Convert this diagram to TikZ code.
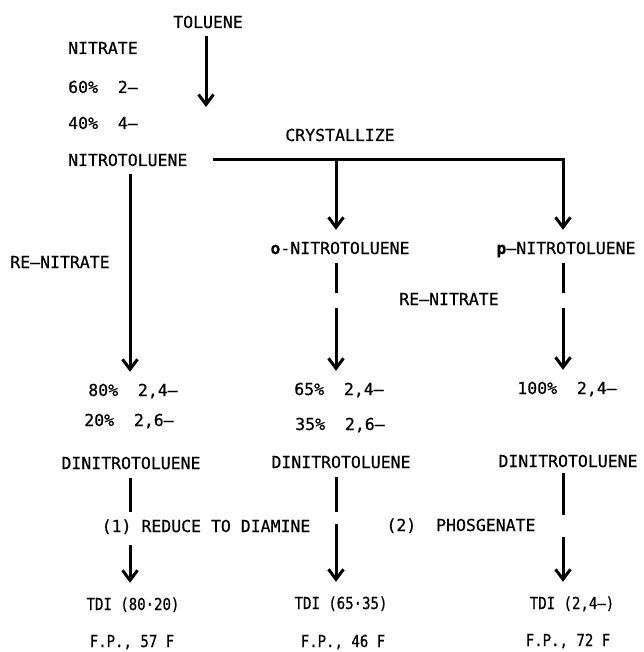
\documentclass[tikz,border=0pt]{standalone}
\usepackage{fontspec}
\setmainfont{DejaVu Sans Mono}[FakeBold=0.6]
\usetikzlibrary{arrows.meta}

\begin{document}
\begin{tikzpicture}[x=1pt,y=-1pt,>={Straight Barb[length=10pt,width=15pt]},
    lbl/.style={inner sep=0pt,text height=12pt,text depth=0pt,font=\fontsize{16.5}{19}\selectfont},
    lblnarrow/.style={lbl,font=\fontsize{16.5}{19}\selectfont\addfontfeature{FakeStretch=0.85}},
    link/.style={line width=3pt,shorten <=8pt},
    flow/.style={link,->,shorten >=12pt}]
  \useasboundingbox (0,0) rectangle (643,652);
  % columns
  \coordinate (cL) at (130,0);
  \coordinate (cM) at (336,0);
  \coordinate (cR) at (563,0);
  % nitration of toluene
  \node[lbl] (toluene) at (208,22) {TOLUENE};
  \node[lbl,anchor=west] (nitrate) at (68,48) {NITRATE};
  \node[lbl,anchor=west] (sixty) at (68,87) {60\% \ 2--};
  \node[lbl,anchor=west] (forty) at (68,123) {40\% \ 4--};
  \node[lbl,anchor=west] (nitrotol) at (68,160) {NITROTOLUENE};
  \coordinate (tolend) at (206,107);
  \draw[link,->] (toluene.south -| tolend) -- (tolend);
  % crystallize
  \node[lbl] (cryst) at (340,135) {CRYSTALLIZE};
  \node[lbl] (otol) at (340,248) {\textbf{o}-NITROTOLUENE};
  \node[lbl] (ptol) at (566,248) {\textbf{p}--NITROTOLUENE};
  \draw[flow,shorten <=25pt] (nitrotol.east) -- (cR |- nitrotol.east) -- (cR |- ptol.north);
  \draw[flow,shorten <=0pt] (cM |- nitrotol.east) -- (cM |- otol.north);
  % re-nitrate
  \node[lbl] (renitA) at (60,262) {RE--NITRATE};
  \node[lbl] (renitB) at (449,299) {RE--NITRATE};
  \node[lbl] (eighty) at (133,390) {80\% \ 2,4--};
  \node[lbl] (twentysix) at (129,420) {20\% \ 2,6--};
  \node[lbl] (sixtyfive) at (339,389) {65\% \ 2,4--};
  \node[lbl] (thirtyfive) at (340,424) {35\% \ 2,6--};
  \node[lbl] (hundred) at (567,388) {100\% \ 2,4--};
  \draw[flow] (cL |- nitrotol.south) -- (cL |- eighty.north);
  \draw[link,shorten <=9pt] (cM |- otol.south) -- (cM |- renitB.north);
  \draw[flow,shorten <=3pt] (cM |- renitB.south) -- (cM |- sixtyfive.north);
  \draw[link,shorten <=9pt] (cR |- ptol.south) -- (cR |- renitB.north);
  \draw[flow,shorten <=3pt] (cR |- renitB.south) -- (cR |- hundred.north);
  % dinitrotoluene
  \node[lbl] (dntL) at (131,463) {DINITROTOLUENE};
  \node[lbl] (dntM) at (341,462) {DINITROTOLUENE};
  \node[lbl] (dntR) at (568,461) {DINITROTOLUENE};
  % reduce and phosgenate
  \node[lbl] (reduce) at (206,526) {(1) REDUCE TO DIAMINE};
  \node[lbl] (phos) at (461,525) {(2) \ PHOSGENATE};
  \node[lblnarrow] (tdiL) at (133,604) {TDI (80·20)};
  \node[lblnarrow] (tdiM) at (341,603) {TDI (65·35)};
  \node[lblnarrow] (tdiR) at (572,603) {TDI (2,4--)};
  \node[lblnarrow] (fpL) at (132,641) {F.P., 57 F};
  \node[lblnarrow] (fpM) at (343,641) {F.P., 46 F};
  \node[lblnarrow] (fpR) at (568,640) {F.P., 72 F};
  \draw[link,shorten <=9pt,shorten >=8pt] (cL |- dntL.south) -- (cL |- reduce.north);
  \draw[flow,shorten <=13pt,shorten >=15pt] (cL |- reduce.south) -- (cL |- tdiL.north);
  \draw[link,shorten <=9pt,shorten >=8pt] (cM |- dntM.south) -- (cM |- reduce.north);
  \draw[flow,shorten <=-8pt,shorten >=15pt] (cM |- reduce.south) -- (cM |- tdiM.north);
  \draw[link,shorten <=6pt,shorten >=4pt] (cR |- dntR.south) -- (cR |- phos.north);
  \draw[flow,shorten <=6pt,shorten >=15pt] (cR |- phos.south) -- (cR |- tdiR.north);
\end{tikzpicture}
\end{document}
